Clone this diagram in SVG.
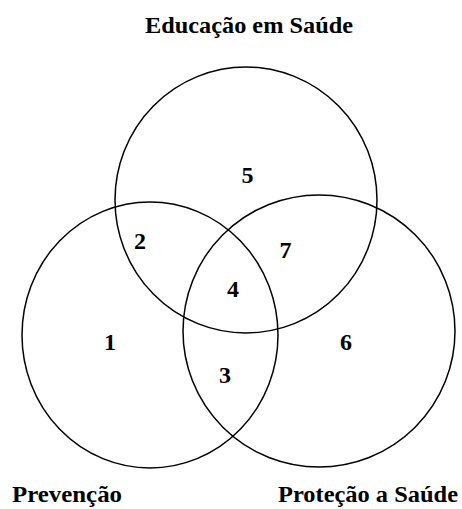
<svg xmlns="http://www.w3.org/2000/svg" width="462" height="509" viewBox="0 0 462 509">
<style>
.c{fill:none;stroke:#000;stroke-width:1.5}
.t{font-family:"Liberation Serif","Times New Roman",serif;font-weight:bold;fill:#000}
.lbl{font-size:23px}
.n{font-size:24px;text-anchor:middle}
</style>
<rect width="462" height="509" fill="#fff"/>
<g id="educacao">
<ellipse class="c" cx="246" cy="200" rx="131" ry="133"/>
<text class="t lbl" x="145" y="33" textLength="208" lengthAdjust="spacingAndGlyphs">Educação em Saúde</text>
</g>
<g id="prevencao">
<ellipse class="c" cx="150" cy="335" rx="128" ry="133"/>
<text class="t lbl" x="12" y="502" textLength="110" lengthAdjust="spacingAndGlyphs">Prevenção</text>
</g>
<g id="protecao">
<ellipse class="c" cx="319" cy="331" rx="136" ry="136"/>
<text class="t lbl" x="278" y="502" textLength="180" lengthAdjust="spacingAndGlyphs">Proteção a Saúde</text>
</g>
<g id="regions">
<text class="t n" x="110" y="350">1</text>
<text class="t n" x="140" y="249">2</text>
<text class="t n" x="225" y="383">3</text>
<text class="t n" x="233" y="297">4</text>
<text class="t n" x="247.5" y="183">5</text>
<text class="t n" x="346" y="350">6</text>
<text class="t n" x="285.5" y="258">7</text>
</g>
<g id="connectors"></g>
</svg>
